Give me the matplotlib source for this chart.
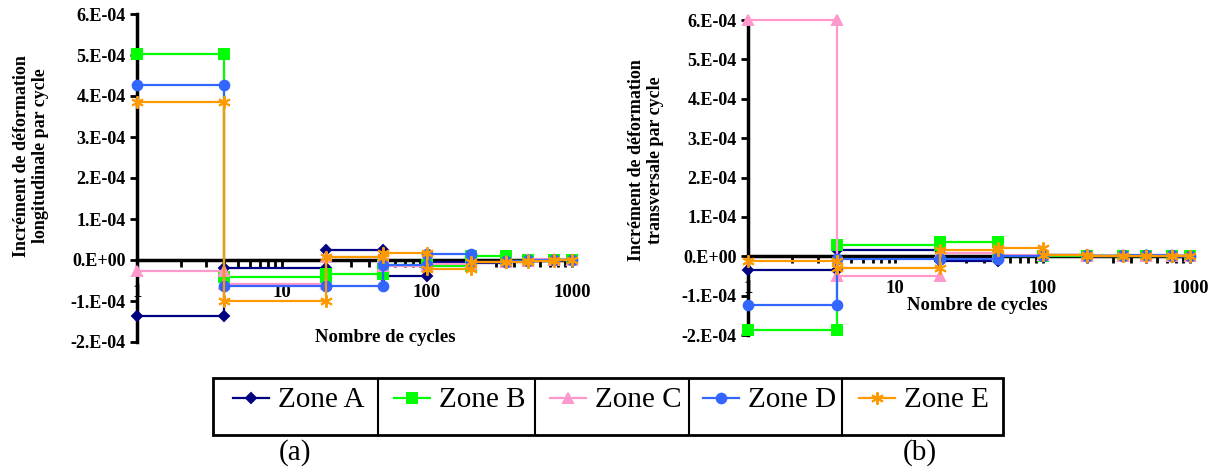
import matplotlib
matplotlib.use("Agg")
import matplotlib.pyplot as plt
from matplotlib.lines import Line2D
from matplotlib.patches import Rectangle

# ---------------- data ----------------
cycles = [1, 4, 20, 50, 100, 200, 350, 500, 750, 1000]
zones = ["Zone A", "Zone B", "Zone C", "Zone D", "Zone E"]

# increment per cycle over each interval [cycles[i], cycles[i+1]] (units 1e-4)
long_A = [-1.36, -0.19, 0.24, -0.38, -0.05, -0.07, -0.04, -0.02, -0.01]
long_B = [5.02, -0.42, -0.33, -0.12, -0.15, 0.10, -0.03, -0.01, 0.01]
long_C = [-0.26, -0.59, 0.08, -0.14, -0.10, -0.04, -0.02, 0.02, 0.00]
long_D = [4.28, -0.63, -0.63, -0.13, 0.14, -0.04, -0.03, -0.01, 0.00]
long_E = [3.85, -0.99, 0.08, 0.16, -0.21, -0.06, -0.05, -0.02, -0.01]

trans_A = [-0.36, 0.17, -0.13, 0.00, 0.02, 0.01, 0.01, 0.00, -0.02]
trans_B = [-1.88, 0.28, 0.36, 0.01, 0.01, 0.01, 0.00, 0.01, 0.00]
trans_C = [6.00, -0.51, 0.09, 0.03, 0.02, 0.01, 0.00, 0.01, 0.00]
trans_D = [-1.23, -0.06, -0.06, 0.00, 0.02, 0.00, 0.03, 0.02, 0.00]
trans_E = [-0.12, -0.31, 0.17, 0.22, 0.03, 0.00, 0.00, 0.00, 0.00]

scale = 1e-4
yticks = [-2e-4, -1e-4, 0.0, 1e-4, 2e-4, 3e-4, 4e-4, 5e-4, 6e-4]
ytick_labels = ["-2.E-04", "-1.E-04", "0.E+00", "1.E-04", "2.E-04",
                "3.E-04", "4.E-04", "5.E-04", "6.E-04"]
xticks = [1, 10, 100, 1000]
xtick_labels = ["1", "10", "100", "1000"]

ylabel_a = "Incrément de déformation\nlongitudinale par cycle"
ylabel_b = "Incrément de déformation\ntransversale par cycle"
xlabel = "Nombre de cycles"

# ---------------- styles ----------------
colors = ["#000080", "#00FF00", "#FF99CC", "#3366FF", "#FF9900"]
markers = ["D", "s", "^", "o", (6, 2, 0)]
msizes = [5, 7, 7, 7, 9]

serif = ["Liberation Serif", "DejaVu Serif"]
plt.rcParams["font.family"] = serif

fig = plt.figure(figsize=(12.16, 4.69), dpi=100)
W, H = 1216.0, 469.0


def steps(vals):
    xs, ys = [], []
    for i, v in enumerate(vals):
        xs += [cycles[i], cycles[i + 1]]
        ys += [v * scale, v * scale]
    return xs, ys


def make_axes(px_left, px_right, px_top, px_bottom, series, ylabel,
              ylab_xy, xlab_xy):
    ax = fig.add_axes([px_left / W, 1 - px_bottom / H,
                       (px_right - px_left) / W, (px_bottom - px_top) / H])
    for vals, c, m, ms in zip(series, colors, markers, msizes):
        xs, ys = steps(vals)
        ax.plot(xs, ys, color=c, lw=1.6, marker=m, ms=ms, mfc=c, mec=c,
                mew=1.4, clip_on=False, zorder=3)
    ax.set_xscale("log")
    ax.set_xlim(1, 1000)
    ax.set_ylim(-2e-4, 6e-4)
    ax.spines["top"].set_visible(False)
    ax.spines["right"].set_visible(False)
    ax.spines["left"].set_linewidth(2.5)
    ax.spines["bottom"].set_linewidth(2.5)
    ax.spines["bottom"].set_position(("data", 0))
    ax.spines["bottom"].set_zorder(2.6)
    ax.set_yticks(yticks)
    ax.set_yticklabels(ytick_labels, fontsize=13, fontweight="bold")
    ax.set_xticks(xticks)
    ax.set_xticklabels(xtick_labels, fontsize=13.5, fontweight="bold")
    ax.tick_params(axis="y", direction="out", length=5, width=2, pad=3)
    ax.tick_params(axis="x", which="major", direction="out", length=5,
                   width=2, pad=12)
    ax.tick_params(axis="x", which="minor", direction="out", length=5,
                   width=2)
    ax.patch.set_alpha(0)
    ax.text(ylab_xy[0], ylab_xy[1], ylabel, transform=ax.transAxes,
            rotation=90, ha="center", va="center", multialignment="center",
            fontsize=13, fontweight="bold", linespacing=1.2)
    fig.text(xlab_xy[0] / W, 1 - xlab_xy[1] / H, xlabel, ha="center",
             va="center", fontsize=13.5, fontweight="bold")
    return ax


axa = make_axes(137, 572, 14, 342,
                [long_A, long_B, long_C, long_D, long_E], ylabel_a,
                (-0.244, 0.567), (385, 338))
axb = make_axes(748, 1190, 20, 335,
                [trans_A, trans_B, trans_C, trans_D, trans_E], ylabel_b,
                (-0.231, 0.556), (977, 305))

# ---------------- legend box ----------------
lax = fig.add_axes([213 / W, 1 - 435 / H, 790 / W, 57 / H])
lax.set_xlim(213, 1003)
lax.set_ylim(435, 378)
lax.axis("off")
bounds = [213, 378, 535, 689, 842, 1003]
sample_x = [233, 394, 550, 703, 859]
lax.add_patch(Rectangle((213, 378), 790, 57, fill=False, lw=2,
                        edgecolor="black", clip_on=False))
for b in bounds[1:-1]:
    lax.add_line(Line2D([b, b], [378, 435], color="black", lw=1.5))
for i, z in enumerate(zones):
    x0 = sample_x[i]
    lax.add_line(Line2D([x0, x0 + 18, x0 + 36], [398, 398, 398],
                        color=colors[i], lw=1.6, marker=markers[i],
                        ms=msizes[i], mfc=colors[i], mec=colors[i],
                        markevery=[1], mew=1.4))
    lax.text(x0 + 45, 400, z, ha="left", va="center", fontsize=21)

fig.text(295 / W, 1 - 453 / H, "(a)", ha="center", va="center", fontsize=21)
fig.text(920 / W, 1 - 453 / H, "(b)", ha="center", va="center", fontsize=21)

fig.savefig("out.png", dpi=100)
